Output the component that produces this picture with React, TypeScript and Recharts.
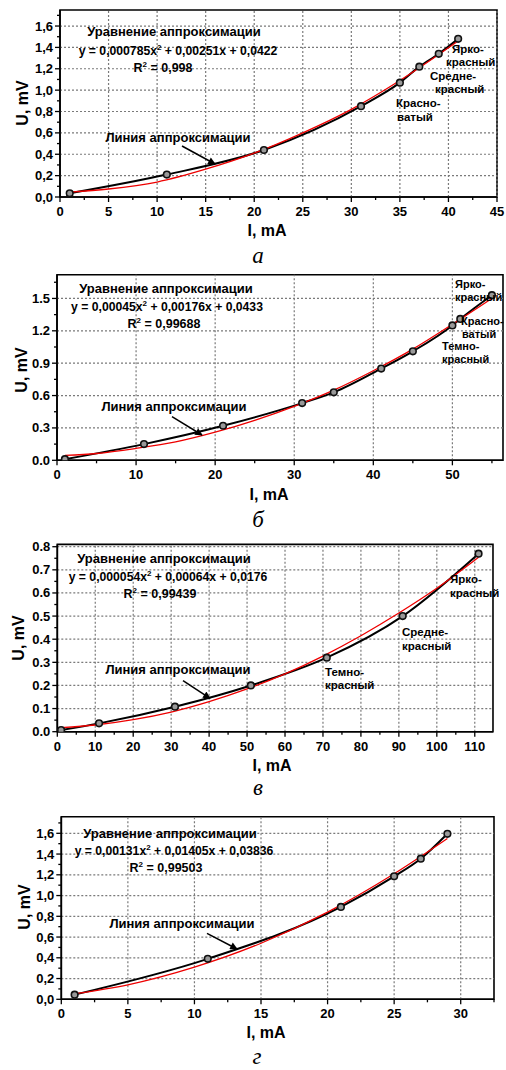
import React from 'react';
import {
  ComposedChart,
  Line,
  ReferenceArea,
  ReferenceLine,
  XAxis,
  YAxis,
} from 'recharts';

// panel а
const aCurrent = [1, 11, 21, 31, 35, 37, 39, 41];
const aVoltage = [0.035, 0.21, 0.44, 0.85, 1.07, 1.22, 1.34, 1.48];
const aFitCurrent = [1, 5, 10, 15, 20, 25, 30, 35, 41];
const aFitVoltage = [0.045, 0.075, 0.14, 0.26, 0.41, 0.6, 0.82, 1.09, 1.46];
const aXTicks = [0, 2.5, 5, 7.5, 10, 12.5, 15, 17.5, 20, 22.5, 25, 27.5, 30, 32.5, 35, 37.5, 40, 42.5, 45];
const aXLabels = [0, 5, 10, 15, 20, 25, 30, 35, 40, 45];
const aYTicks = [0, 0.1, 0.2, 0.3, 0.4, 0.5, 0.6, 0.7, 0.8, 0.9, 1, 1.1, 1.2, 1.3, 1.4, 1.5, 1.6, 1.7];
const aYLabels = [0, 0.2, 0.4, 0.6, 0.8, 1, 1.2, 1.4, 1.6];

// panel б
const bCurrent = [1, 11, 21, 31, 35, 41, 45, 50, 51, 55];
const bVoltage = [0.01, 0.15, 0.32, 0.53, 0.63, 0.85, 1.01, 1.25, 1.31, 1.53];
const bFitCurrent = [1, 5, 10, 15, 20, 25, 30, 35, 40, 45, 50, 55];
const bFitVoltage = [0.045, 0.063, 0.11, 0.17, 0.26, 0.37, 0.5, 0.65, 0.83, 1.03, 1.26, 1.5];
const bXTicks = [0, 5, 10, 15, 20, 25, 30, 35, 40, 45, 50, 55];
const bXLabels = [0, 10, 20, 30, 40, 50];
const bYTicks = [0, 0.15, 0.3, 0.45, 0.6, 0.75, 0.9, 1.05, 1.2, 1.35, 1.5, 1.65];
const bYLabels = [0, 0.3, 0.6, 0.9, 1.2, 1.5];

// panel в
const cCurrent = [1, 11, 31, 51, 71, 91, 111];
const cVoltage = [0.007, 0.036, 0.108, 0.2, 0.32, 0.5, 0.77];
const cFitCurrent = [1, 10, 20, 30, 40, 50, 60, 70, 80, 90, 100, 111];
const cFitVoltage = [0.018, 0.029, 0.052, 0.085, 0.13, 0.185, 0.25, 0.327, 0.415, 0.513, 0.62, 0.754];
const cXTicks = [0, 5, 10, 15, 20, 25, 30, 35, 40, 45, 50, 55, 60, 65, 70, 75, 80, 85, 90, 95, 100, 105, 110];
const cXLabels = [0, 10, 20, 30, 40, 50, 60, 70, 80, 90, 100, 110];
const cYTicks = [0, 0.05, 0.1, 0.15, 0.2, 0.25, 0.3, 0.35, 0.4, 0.45, 0.5, 0.55, 0.6, 0.65, 0.7, 0.75, 0.8];
const cYLabels = [0, 0.1, 0.2, 0.3, 0.4, 0.5, 0.6, 0.7, 0.8];

// panel г
const dCurrent = [1, 11, 21, 25, 27, 29];
const dVoltage = [0.045, 0.39, 0.89, 1.185, 1.355, 1.595];
const dFitCurrent = [1, 5, 10, 15, 20, 25, 29];
const dFitVoltage = [0.054, 0.14, 0.31, 0.54, 0.84, 1.21, 1.55];
const dXTicks = [0, 2.5, 5, 7.5, 10, 12.5, 15, 17.5, 20, 22.5, 25, 27.5, 30, 32.5];
const dXLabels = [0, 5, 10, 15, 20, 25, 30];
const dYTicks = [0, 0.1, 0.2, 0.3, 0.4, 0.5, 0.6, 0.7, 0.8, 0.9, 1, 1.1, 1.2, 1.3, 1.4, 1.5, 1.6, 1.7];
const dYLabels = [0, 0.2, 0.4, 0.6, 0.8, 1, 1.2, 1.4, 1.6];

const W = 506;
const SANS = "'Liberation Sans', Arial, sans-serif";
const SERIF = "'Liberation Serif', 'Times New Roman', serif";
const GRID = '#7a7a7a';

type Pt = { x: number; y: number };
const zip = (xs: number[], ys: number[]): Pt[] => xs.map((x, i) => ({ x, y: ys[i] }));

type Box = { left: number; top: number; right: number; bottom: number };

type PanelProps = {
  top: number;
  box: Box;
  xDomain: [number, number];
  yDomain: [number, number];
  xTicks: number[];
  xLabels: number[];
  yTicks: number[];
  yLabels: number[];
  comma: boolean;
  points: Pt[];
  fit: Pt[];
  children?: React.ReactNode;
};

const T = ({ x, y, size = 13, anchor = 'middle', children }: any) => (
  <text x={x} y={y} fontSize={size} fontWeight="bold" fontFamily={SANS} textAnchor={anchor} fill="#000">
    {children}
  </text>
);

const Equation = ({ x, y, a, b, c }: any) => (
  <text x={x} y={y} fontSize={12.2} fontWeight="bold" fontFamily={SANS} textAnchor="middle" fill="#000">
    {`y = ${a}x`}
    <tspan dy={-5} fontSize={8}>2</tspan>
    <tspan dy={5}>{` + ${b}x + ${c}`}</tspan>
  </text>
);

const R2 = ({ x, y, v }: any) => (
  <text x={x} y={y} fontSize={12.5} fontWeight="bold" fontFamily={SANS} textAnchor="middle" fill="#000">
    R<tspan dy={-5} fontSize={8}>2</tspan>
    <tspan dy={5}>{` = ${v}`}</tspan>
  </text>
);

const Arrow = ({ x1, y1, x2, y2 }: any) => (
  <line x1={x1} y1={y1} x2={x2} y2={y2} stroke="#000" strokeWidth={1.5} markerEnd="url(#arr)" />
);

const Titles = ({ uX, uY, iX, iY, cap, capX, capY }: any) => (
  <>
    <text
      x={uX}
      y={uY}
      transform={`rotate(-90 ${uX} ${uY})`}
      fontSize={16}
      fontWeight="bold"
      fontFamily={SANS}
      textAnchor="middle"
    >
      U, mV
    </text>
    <T x={iX} y={iY} size={16}>I, mA</T>
    <text x={capX} y={capY} fontSize={23} fontStyle="italic" fontFamily={SERIF} textAnchor="middle">
      {cap}
    </text>
  </>
);

const Panel = (p: PanelProps) => {
  const { box } = p;
  const height = box.bottom + 40;
  const fmt = (v: number) => (p.comma ? v.toFixed(1).replace('.', ',') : v.toFixed(1));

  const XTick = ({ x, y, payload }: any) => {
    const major = p.xLabels.includes(payload.value);
    return (
      <g>
        <line x1={x} x2={x} y1={y} y2={y + (major ? 5 : 3)} stroke="#000" strokeWidth={1.3} />
        {major && (
          <text x={x} y={y + 19} textAnchor="middle" fontSize={13} fontWeight="bold" fontFamily={SANS} fill="#000">
            {payload.value}
          </text>
        )}
      </g>
    );
  };

  const YTick = ({ x, y, payload }: any) => {
    const major = p.yLabels.includes(payload.value);
    return (
      <g>
        <line x1={x} x2={x - (major ? 5 : 3)} y1={y} y2={y} stroke="#000" strokeWidth={1.3} />
        {major && (
          <text x={x - 7} y={y + 4.5} textAnchor="end" fontSize={13} fontWeight="bold" fontFamily={SANS} fill="#000">
            {fmt(payload.value)}
          </text>
        )}
      </g>
    );
  };

  return (
    <div style={{ position: 'absolute', left: 0, top: p.top, width: W, height: 270 }}>
      <ComposedChart
        width={W}
        height={height}
        margin={{ top: box.top, right: W - box.right, bottom: 0, left: 0 }}
      >
        <XAxis
          type="number"
          dataKey="x"
          domain={p.xDomain}
          ticks={p.xTicks}
          interval={0}
          height={40}
          tickSize={0}
          tickMargin={0}
          tickLine={false}
          tick={XTick}
          axisLine={{ stroke: '#000', strokeWidth: 1.6 }}
          allowDataOverflow
        />
        <YAxis
          type="number"
          dataKey="y"
          domain={p.yDomain}
          ticks={p.yTicks}
          interval={0}
          width={box.left}
          tickSize={0}
          tickMargin={0}
          tickLine={false}
          tick={YTick}
          axisLine={{ stroke: '#000', strokeWidth: 1.6 }}
          allowDataOverflow
        />
        {p.xLabels.slice(1).map((v) => (
          <ReferenceLine key={`vx${v}`} x={v} stroke={GRID} strokeDasharray="2 2" strokeWidth={1.2} ifOverflow="visible" />
        ))}
        {p.yLabels.slice(1).map((v) => (
          <ReferenceLine key={`hy${v}`} y={v} stroke={GRID} strokeDasharray="2 2" strokeWidth={1.2} ifOverflow="visible" />
        ))}
        <ReferenceArea
          x1={p.xDomain[0]}
          x2={p.xDomain[1]}
          y1={p.yDomain[0]}
          y2={p.yDomain[1]}
          fill="none"
          stroke="#000"
          strokeWidth={1.6}
          ifOverflow="visible"
        />
        <Line data={p.points} dataKey="y" type="monotone" stroke="#000" strokeWidth={2} dot={false} isAnimationActive={false} />
        <Line data={p.fit} dataKey="y" type="monotone" stroke="#ee0000" strokeWidth={1.3} dot={false} isAnimationActive={false} />
        <Line
          data={p.points}
          dataKey="y"
          stroke="none"
          dot={{ r: 3.3, fill: '#999', stroke: '#111', strokeWidth: 1.6 }}
          activeDot={false}
          isAnimationActive={false}
        />
      </ComposedChart>
      <svg width={W} height={270} style={{ position: 'absolute', left: 0, top: 0, overflow: 'visible' }}>
        <defs>
          <marker id="arr" viewBox="0 0 10 10" refX="9" refY="5" markerWidth="6" markerHeight="5" orient="auto">
            <path d="M0,0 L10,5 L0,10 z" fill="#000" />
          </marker>
        </defs>
        {p.children}
      </svg>
    </div>
  );
};

export default function App() {
  return (
    <div style={{ position: 'absolute', left: 0, top: 0, width: W, height: 1070, background: '#fff', overflow: 'hidden' }}>
      <Panel
        top={0}
        box={{ left: 60, top: 10, right: 497, bottom: 197 }}
        xDomain={[0, 45]}
        yDomain={[0, 1.75]}
        xTicks={aXTicks}
        xLabels={aXLabels}
        yTicks={aYTicks}
        yLabels={aYLabels}
        comma
        points={zip(aCurrent, aVoltage)}
        fit={zip(aFitCurrent, aFitVoltage)}
      >
        <T x={174} y={36}>Уравнение аппроксимации</T>
        <Equation x={178} y={54.5} a="0,000785" b="0,00251" c="0,0422" />
        <R2 x={163} y={72} v="0,998" />
        <T x={178} y={142}>Линия аппроксимации</T>
        <Arrow x1={182} y1={146} x2={215} y2={164} />
        <T x={452} y={53} size={11.5} anchor="start">Ярко-</T>
        <T x={446} y={66} size={11.5} anchor="start">красный</T>
        <T x={430} y={80} size={11.5} anchor="start">Средне-</T>
        <T x={435} y={93} size={11.5} anchor="start">красный</T>
        <T x={396} y={107} size={11.5} anchor="start">Красно-</T>
        <T x={397} y={121} size={11.5} anchor="start">ватый</T>
        <Titles uX={28} uY={103} iX={267} iY={236} cap="а" capX={258} capY={263} />
      </Panel>
      <Panel
        top={270}
        box={{ left: 57, top: 4.7, right: 503, bottom: 190.3 }}
        xDomain={[0, 56.4]}
        yDomain={[0, 1.72]}
        xTicks={bXTicks}
        xLabels={bXLabels}
        yTicks={bYTicks}
        yLabels={bYLabels}
        comma={false}
        points={zip(bCurrent, bVoltage)}
        fit={zip(bFitCurrent, bFitVoltage)}
      >
        <T x={166} y={22.5}>Уравнение аппроксимации</T>
        <Equation x={167} y={41} a="0,00045" b="0,00176" c="0,0433" />
        <R2 x={164} y={58} v="0,99688" />
        <T x={174} y={141}>Линия аппроксимации</T>
        <Arrow x1={172} y1={146.7} x2={202} y2={165} />
        <T x={455} y={18} size={11} anchor="start">Ярко-</T>
        <T x={455} y={31} size={11} anchor="start">красный</T>
        <T x={461} y={55} size={11} anchor="start">Красно-</T>
        <T x={462} y={68} size={11} anchor="start">ватый</T>
        <T x={442} y={80} size={11} anchor="start">Темно-</T>
        <T x={442} y={93} size={11} anchor="start">красный</T>
        <Titles uX={27} uY={100} iX={269} iY={230} cap="б" capX={258} capY={257} />
      </Panel>
      <Panel
        top={530}
        box={{ left: 57.3, top: 14.4, right: 493, bottom: 201.7 }}
        xDomain={[0, 114.8]}
        yDomain={[0, 0.81]}
        xTicks={cXTicks}
        xLabels={cXLabels}
        yTicks={cYTicks}
        yLabels={cYLabels}
        comma={false}
        points={zip(cCurrent, cVoltage)}
        fit={zip(cFitCurrent, cFitVoltage)}
      >
        <T x={164} y={32.5}>Уравнение аппроксимации</T>
        <Equation x={168} y={51} a="0,000054" b="0,00064" c="0,0176" />
        <R2 x={160} y={68} v="0,99439" />
        <T x={178} y={144}>Линия аппроксимации</T>
        <Arrow x1={183} y1={150.7} x2={210} y2={168.3} />
        <T x={450} y={53} size={11.5} anchor="start">Ярко-</T>
        <T x={450} y={67} size={11.5} anchor="start">красный</T>
        <T x={402} y={105.5} size={11.5} anchor="start">Средне-</T>
        <T x={402} y={120} size={11.5} anchor="start">красный</T>
        <T x={325} y={145.5} size={11.5} anchor="start">Темно-</T>
        <T x={325} y={159} size={11.5} anchor="start">красный</T>
        <Titles uX={24} uY={108} iX={272} iY={241} cap="в" capX={258} capY={265} />
      </Panel>
      <Panel
        top={800}
        box={{ left: 61.3, top: 16.7, right: 494, bottom: 199.3 }}
        xDomain={[0, 32.5]}
        yDomain={[0, 1.76]}
        xTicks={dXTicks}
        xLabels={dXLabels}
        yTicks={dYTicks}
        yLabels={dYLabels}
        comma
        points={zip(dCurrent, dVoltage)}
        fit={zip(dFitCurrent, dFitVoltage)}
      >
        <T x={170} y={37.5}>Уравнение аппроксимации</T>
        <Equation x={174} y={55} a="0,00131" b="0,01405" c="0,03836" />
        <R2 x={166} y={72} v="0,99503" />
        <T x={182} y={128}>Линия аппроксимации</T>
        <Arrow x1={207} y1={133.3} x2={237} y2={149} />
        <Titles uX={30} uY={107} iX={266} iY={237.5} cap="г" capX={257} capY={264} />
      </Panel>
    </div>
  );
}
